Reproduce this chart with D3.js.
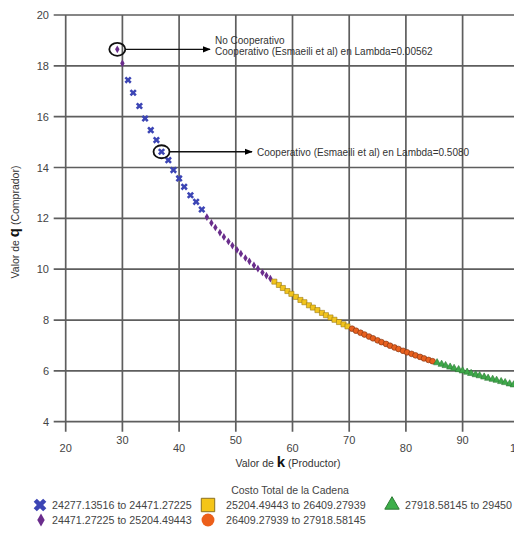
<!DOCTYPE html>
<html>
<head>
<meta charset="utf-8">
<script src="https://cdn.jsdelivr.net/npm/d3@7"></script>
<style>
  body { margin: 0; background: #fff; }
  text { font-family: "Liberation Sans", Arial, sans-serif; }
</style>
</head>
<body>
<div id="chart"></div>
<script>

// values
var xTicks = [20, 30, 40, 50, 60, 70, 80, 90, 100];
var yTicks = [4, 6, 8, 10, 12, 14, 16, 18, 20];

var kDiamondA = [29.1, 30.0];
var qDiamondA = [18.65, 18.1];

var kCross = [31.0, 31.9, 33.0, 34.0, 35.0, 36.0, 36.9, 38.1, 39.0, 40.0, 40.9, 42.0, 43.0, 44.0];
var qCross = [17.44, 16.94, 16.42, 15.93, 15.47, 15.08, 14.62, 14.29, 13.9, 13.57, 13.24, 12.91, 12.65, 12.35];

var kDiamond = [44.9, 45.7, 46.4, 47.2, 47.9, 48.7, 49.4, 50.2, 50.9, 51.7, 52.4, 53.2, 53.9, 54.7, 55.4, 56.1];
var qDiamond = [12.05, 11.82, 11.64, 11.44, 11.27, 11.09, 10.93, 10.76, 10.61, 10.44, 10.31, 10.15, 10.02, 9.87, 9.75, 9.63];

var kSquare = [56.8, 57.6, 58.3, 59.1, 59.8, 60.6, 61.4, 62.1, 62.9, 63.6, 64.4, 65.2, 65.9, 66.7, 67.4, 68.2, 69.0, 69.7];
var qSquare = [9.51, 9.38, 9.26, 9.14, 9.03, 8.91, 8.79, 8.7, 8.58, 8.49, 8.39, 8.28, 8.19, 8.1, 8.01, 7.92, 7.83, 7.75];

var kCircle = [70.5, 71.2, 72.0, 72.7, 73.5, 74.2, 75.0, 75.7, 76.5, 77.2, 78.0, 78.7, 79.5, 80.2, 81.0, 81.7, 82.5, 83.2, 84.0, 84.7];
var qCircle = [7.66, 7.58, 7.5, 7.43, 7.35, 7.28, 7.2, 7.13, 7.06, 6.99, 6.92, 6.86, 6.79, 6.73, 6.67, 6.61, 6.55, 6.49, 6.43, 6.38];

var kTriangle = [85.5, 86.3, 87.0, 87.8, 88.5, 89.3, 90.0, 90.8, 91.5, 92.3, 93.0, 93.8, 94.5, 95.3, 96.0, 96.8, 97.5, 98.3, 99.0, 99.8];
var qTriangle = [6.32, 6.26, 6.21, 6.15, 6.1, 6.05, 6.0, 5.95, 5.9, 5.85, 5.81, 5.76, 5.71, 5.67, 5.63, 5.58, 5.54, 5.49, 5.45, 5.41];

var legendTitle = "Costo Total de la Cadena";
var legendLabels = [
  "24277.13516 to 24471.27225",
  "24471.27225 to 25204.49443",
  "25204.49443 to 26409.27939",
  "26409.27939 to 27918.58145",
  "27918.58145 to 29450"
];

var notes = [
  {k: 29.1, q: 18.65, lines: ["No Cooperativo", "Cooperativo (Esmaeili et al) en Lambda=0.00562"]},
  {k: 36.9, q: 14.62, lines: ["Cooperativo (Esmaeili et al) en Lambda=0.5080"]}
];

var width = 514, height = 534;
var plotLeft = 65.7, plotTop = 15, plotBottom = 421.7;

var svg = d3.select("#chart")
  .append("svg")
    .attr("width", width)
    .attr("height", height);

var x = d3.scaleLinear().domain([20, 100]).range([plotLeft, plotLeft + 8 * 56.7]);
var y = d3.scaleLinear().domain([4, 20]).range([plotBottom, plotTop]);

// grid
var grid = svg.append("g").attr("stroke", "#5e5e5e").attr("stroke-width", 1.7);
grid.selectAll(".gy")
  .data(yTicks)
  .enter().append("line")
    .attr("x1", plotLeft - 12).attr("x2", x(100))
    .attr("y1", function(d) { return y(d); })
    .attr("y2", function(d) { return y(d); });
grid.selectAll(".gx")
  .data(xTicks)
  .enter().append("line")
    .attr("x1", function(d) { return x(d); })
    .attr("x2", function(d) { return x(d); })
    .attr("y1", y(20)).attr("y2", y(4) + 10);

// tick labels
svg.selectAll(".yl")
  .data(yTicks)
  .enter().append("text")
    .attr("x", 49)
    .attr("y", function(d) { return y(d) + 4; })
    .attr("text-anchor", "end")
    .attr("font-size", 11)
    .attr("fill", "#444")
    .text(function(d) { return d; });

svg.selectAll(".xl")
  .data(xTicks)
  .enter().append("text")
    .attr("x", function(d) { return x(d); })
    .attr("y", function(d, i) { return i % 2 ? 444 : 452; })
    .attr("text-anchor", "middle")
    .attr("font-size", 11)
    .attr("fill", "#444")
    .text(function(d) { return d; });

// axis titles
var xt = svg.append("text")
  .attr("x", 288).attr("y", 467)
  .attr("text-anchor", "middle")
  .attr("font-size", 10.5)
  .attr("fill", "#333");
xt.append("tspan").text("Valor de ");
xt.append("tspan").attr("font-size", 15).attr("font-weight", "bold").attr("fill", "#111").text("k");
xt.append("tspan").text(" (Productor)");

var yt = svg.append("text")
  .attr("transform", "translate(19,222) rotate(-90)")
  .attr("text-anchor", "middle")
  .attr("font-size", 10.5)
  .attr("fill", "#333");
yt.append("tspan").text("Valor de ");
yt.append("tspan").attr("font-size", 15).attr("font-weight", "bold").attr("fill", "#111").text("q");
yt.append("tspan").text(" (Comprador)");

// series
var series = [
  {k: kCross, q: qCross, type: d3.symbolCross, size: 32, rot: 45, fill: "#3c45b5", stroke: "none"},
  {k: kDiamondA, q: qDiamondA, type: d3.symbolDiamond, size: 17, rot: 0, fill: "#6a2d8c", stroke: "none"},
  {k: kDiamond, q: qDiamond, type: d3.symbolDiamond, size: 17, rot: 0, fill: "#6a2d8c", stroke: "none"},
  {k: kSquare, q: qSquare, type: d3.symbolSquare, size: 26, rot: 0, fill: "#f2c41c", stroke: "#9a7a18"},
  {k: kCircle, q: qCircle, type: d3.symbolCircle, size: 26, rot: 0, fill: "#e8601e", stroke: "#7a3010"},
  {k: kTriangle, q: qTriangle, type: d3.symbolTriangle, size: 22, rot: 0, fill: "#3ea84a", stroke: "#2c7a34"}
];

series.forEach(function(s) {
  var pts = s.k.map(function(v, i) { return {k: v, q: s.q[i]}; });
  svg.append("g").selectAll("path")
    .data(pts)
    .enter().append("path")
      .attr("d", d3.symbol().type(s.type).size(s.size))
      .attr("transform", function(d) {
        return "translate(" + x(d.k) + "," + y(d.q) + ") rotate(" + s.rot + ")";
      })
      .attr("fill", s.fill)
      .attr("stroke", s.stroke)
      .attr("stroke-width", 0.6);
});

// annotations
svg.append("defs").append("marker")
  .attr("id", "arrow")
  .attr("viewBox", "0 0 10 10")
  .attr("refX", 9).attr("refY", 5)
  .attr("markerWidth", 7).attr("markerHeight", 6)
  .attr("orient", "auto")
  .append("path")
    .attr("d", "M0,1 L10,5 L0,9 Z")
    .attr("fill", "#000");

var arrowEnd = [210, 252];
notes.forEach(function(n, i) {
  var cx = x(n.k), cy = y(n.q);
  svg.append("ellipse")
    .attr("cx", cx).attr("cy", cy)
    .attr("rx", 8).attr("ry", 6.5)
    .attr("fill", "none")
    .attr("stroke", "#111")
    .attr("stroke-width", 1.8);
  svg.append("line")
    .attr("x1", cx + 8).attr("x2", arrowEnd[i])
    .attr("y1", cy).attr("y2", cy)
    .attr("stroke", "#111")
    .attr("stroke-width", 1.3)
    .attr("marker-end", "url(#arrow)");
  var t = svg.append("text")
    .attr("font-size", 10)
    .attr("fill", "#333");
  n.lines.forEach(function(line, j) {
    t.append("tspan")
      .attr("x", arrowEnd[i] + 5)
      .attr("y", n.lines.length > 1 ? cy - 5 + j * 11 : cy + 4)
      .text(line);
  });
});

// legend
svg.append("text")
  .attr("x", 290).attr("y", 494)
  .attr("text-anchor", "middle")
  .attr("font-size", 10.5)
  .attr("fill", "#444")
  .text(legendTitle);

var legendItems = [
  {type: d3.symbolCross, size: 100, rot: 45, fill: "#3c45b5", stroke: "none", sx: 40, tx: 52, ty: 509},
  {type: d3.symbolDiamond, size: 48, rot: 0, fill: "#6a2d8c", stroke: "none", sx: 41, tx: 52, ty: 524},
  {type: d3.symbolSquare, size: 180, rot: 0, fill: "#f5c518", stroke: "#8a7020", sx: 208, tx: 226, ty: 509},
  {type: d3.symbolCircle, size: 130, rot: 0, fill: "#ec5f1a", stroke: "none", sx: 208, tx: 226, ty: 524},
  {type: d3.symbolTriangle, size: 90, rot: 0, fill: "#3daf4a", stroke: "#2c7a34", sx: 392, tx: 405, ty: 509}
];

legendItems.forEach(function(d, i) {
  svg.append("path")
    .attr("d", d3.symbol().type(d.type).size(d.size))
    .attr("transform", "translate(" + d.sx + "," + (d.ty - 4) + ") rotate(" + d.rot + ")")
    .attr("fill", d.fill)
    .attr("stroke", d.stroke)
    .attr("stroke-width", 1);
  svg.append("text")
    .attr("x", d.tx).attr("y", d.ty)
    .attr("font-size", 10.7)
    .attr("fill", "#444")
    .text(legendLabels[i]);
});

</script>
</body>
</html>
